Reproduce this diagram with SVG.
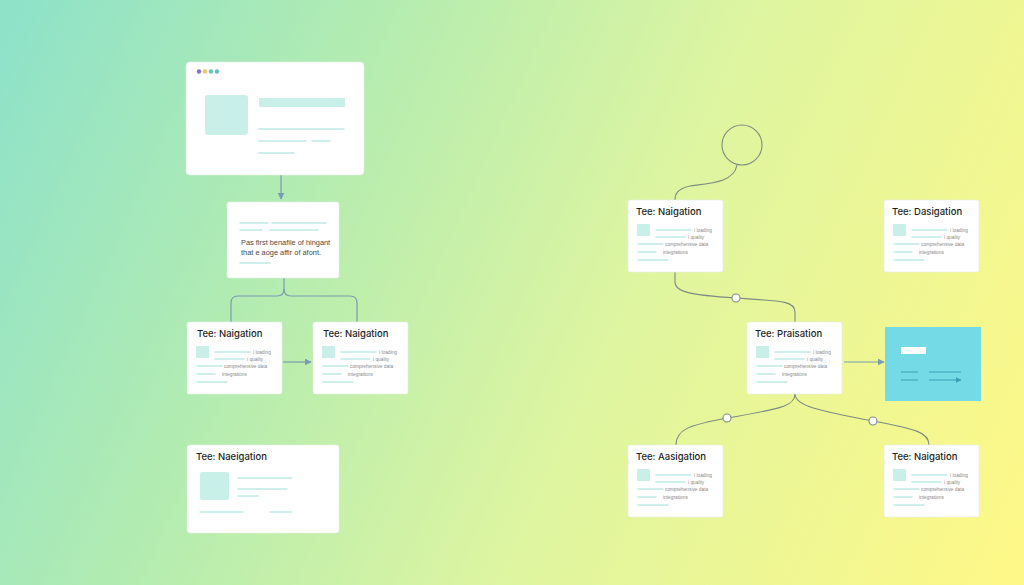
<svg xmlns="http://www.w3.org/2000/svg" xmlns:xlink="http://www.w3.org/1999/xlink" width="1024" height="585" viewBox="0 0 1024 585">
<defs>
<linearGradient id="bg" gradientUnits="userSpaceOnUse" x1="0" y1="60" x2="1024" y2="520">
<stop offset="0" stop-color="#8fe2c8"/>
<stop offset="0.3" stop-color="#b4ecb0"/>
<stop offset="0.6" stop-color="#def5a0"/>
<stop offset="1" stop-color="#fdf888"/>
</linearGradient>
<marker id="arr" viewBox="0 0 10 10" refX="9" refY="5" markerWidth="7" markerHeight="7" orient="auto" markerUnits="userSpaceOnUse">
<path d="M0,0 L10,5 L0,10 z" fill="#7a9cb0"/>
</marker>
<marker id="arrB" viewBox="0 0 10 10" refX="9" refY="5" markerWidth="6" markerHeight="6" orient="auto" markerUnits="userSpaceOnUse">
<path d="M0,0 L10,5 L0,10 z" fill="#3a9fb4"/>
</marker>
<g id="cardBody">
<rect x="0" y="0" width="95" height="72" rx="2" class="card"/>
<rect x="9" y="24" width="13" height="12" rx="1" fill="#c8f0e8"/>
<path d="M28,30 H63 M28,37 H57 M10,44 H35 M10,52 H28 M10,60 H40" class="ln"/>
<text x="66" y="31.5" class="tiny">i loading</text>
<text x="60" y="38.5" class="tiny">i quality</text>
<text x="37" y="45.5" class="tiny">comprehensive data</text>
<text x="35" y="53.5" class="tiny">integrations</text>
</g>
</defs>
<style>
.card{fill:#ffffff;stroke:#e6efe8;stroke-width:0.6}
.ln{stroke:#bfeae6;stroke-width:1.5;fill:none;stroke-linecap:round}
.tiny{font-family:"Liberation Sans",Arial,sans-serif;font-size:4.8px;fill:#8a8a8a}
.title{font-family:Inter,"Liberation Sans",Arial,sans-serif;font-size:9.5px;fill:#1e1e1e;font-weight:500}
.para{font-family:"Liberation Sans",Arial,sans-serif;font-size:7.4px;fill:#4a4a4a}
.conn{fill:none;stroke:#7a9cb0;stroke-width:1.2}
.connG{fill:none;stroke:#7d8c82;stroke-width:1.1}
.dot{fill:#ffffff;stroke:#7d8c82;stroke-width:1.1}
</style>
<rect x="0" y="0" width="1024" height="585" fill="url(#bg)"/>

<g id="connectors">
<path d="M281,175 V199" class="conn" marker-end="url(#arr)"/>
<path d="M284,278 V289 Q284,296 277,296 H238 Q231,296 231,303 V322" class="conn"/>
<path d="M284,289 Q284,296 291,296 H350 Q357,296 357,303 V322" class="conn"/>
<path d="M283,362 H311" class="conn" marker-end="url(#arr)"/>
<path d="M737,165 C734,182 712,183 690,186 C677,189 675,194 675,200" class="connG"/>
<path d="M675,272 V282 C675,292 690,295 736,298 C782,301 795,301 795,312 V322" class="connG"/>
<path d="M844,362 H884" class="conn" marker-end="url(#arr)"/>
<path d="M795,394 C795,406 780,409 727,418 C690,425 676,429 676,445" class="connG"/>
<path d="M795,394 C795,406 820,411 873,421 C915,429 929,432 929,445" class="connG"/>
</g>

<g id="browser">
<rect x="186" y="62" width="178" height="113" rx="4" class="card"/>
<circle cx="199" cy="71.5" r="2.2" fill="#8a70c8"/>
<circle cx="205" cy="71.5" r="2.2" fill="#f0c85a"/>
<circle cx="211" cy="71.5" r="2.2" fill="#5ccbc0"/>
<circle cx="217" cy="71.5" r="2.2" fill="#6ab8d0"/>
<rect x="205" y="95" width="43" height="40" rx="3" fill="#c8f0e8"/>
<rect x="259" y="98" width="86" height="9" fill="#c8f0e8"/>
<path d="M259,129 H344 M259,141 H306 M312,141 H330 M259,153 H294" class="ln"/>
</g>

<g id="textcard">
<rect x="227" y="202" width="112" height="76" rx="2" class="card"/>
<path d="M240,223 H268 M272,223 H326 M240,230 H262 M270,230 H318 M240,263 H270" class="ln"/>
<text x="241" y="245" class="para">Pas first benafile of hingant</text>
<text x="241" y="255" class="para">that e aoge affir of afont.</text>
</g>

<g id="nodeA" transform="translate(187,322)">
<use xlink:href="#cardBody"/>
<text x="10" y="15" class="title">Tee:  Naigation</text>
</g>
<g id="nodeB" transform="translate(313,322)">
<use xlink:href="#cardBody"/>
<text x="10" y="15" class="title">Tee:  Naigation</text>
</g>

<g id="nodeC">
<rect x="187" y="445" width="152" height="88" rx="3" class="card"/>
<text x="196" y="460" class="title">Tee:  Naeigation</text>
<rect x="200" y="472" width="29" height="28" rx="2" fill="#c8f0e8"/>
<path d="M238,478 H292 M238,489 H287 M238,496 H258 M200,512 H243 M270,512 H292" class="ln"/>
</g>

<g id="circleNode">
<circle cx="742" cy="145" r="20" fill="none" stroke="#7d8c82" stroke-width="1.1"/>
</g>

<g id="nodeD" transform="translate(628,200)">
<use xlink:href="#cardBody"/>
<text x="8" y="15" class="title">Tee:  Naigation</text>
</g>
<g id="nodeE" transform="translate(884,200)">
<use xlink:href="#cardBody"/>
<text x="8" y="15" class="title">Tee:  Dasigation</text>
</g>
<g id="nodeF" transform="translate(747,322)">
<use xlink:href="#cardBody"/>
<text x="8" y="15" class="title">Tee:  Praisation</text>
</g>
<g id="nodeG" transform="translate(628,445)">
<use xlink:href="#cardBody"/>
<text x="8" y="15" class="title">Tee:  Aasigation</text>
</g>
<g id="nodeH" transform="translate(884,445)">
<use xlink:href="#cardBody"/>
<text x="8" y="15" class="title">Tee:  Naigation</text>
</g>

<g id="blueBox">
<rect x="885" y="327" width="96" height="74" fill="#74dbe6"/>
<rect x="901" y="347" width="25" height="7" fill="#ffffff"/>
<path d="M901,372 H918 M901,380 H918" stroke="#3a9fb4" stroke-width="1.2" fill="none"/>
<path d="M929,372 H961 M929,380 H961" stroke="#3a9fb4" stroke-width="1.2" fill="none" marker-end="url(#arrB)"/>
</g>

<g id="dots">
<circle cx="736" cy="298" r="4" class="dot"/>
<circle cx="727" cy="418" r="4" class="dot"/>
<circle cx="873" cy="421" r="4" class="dot"/>
</g>
</svg>
